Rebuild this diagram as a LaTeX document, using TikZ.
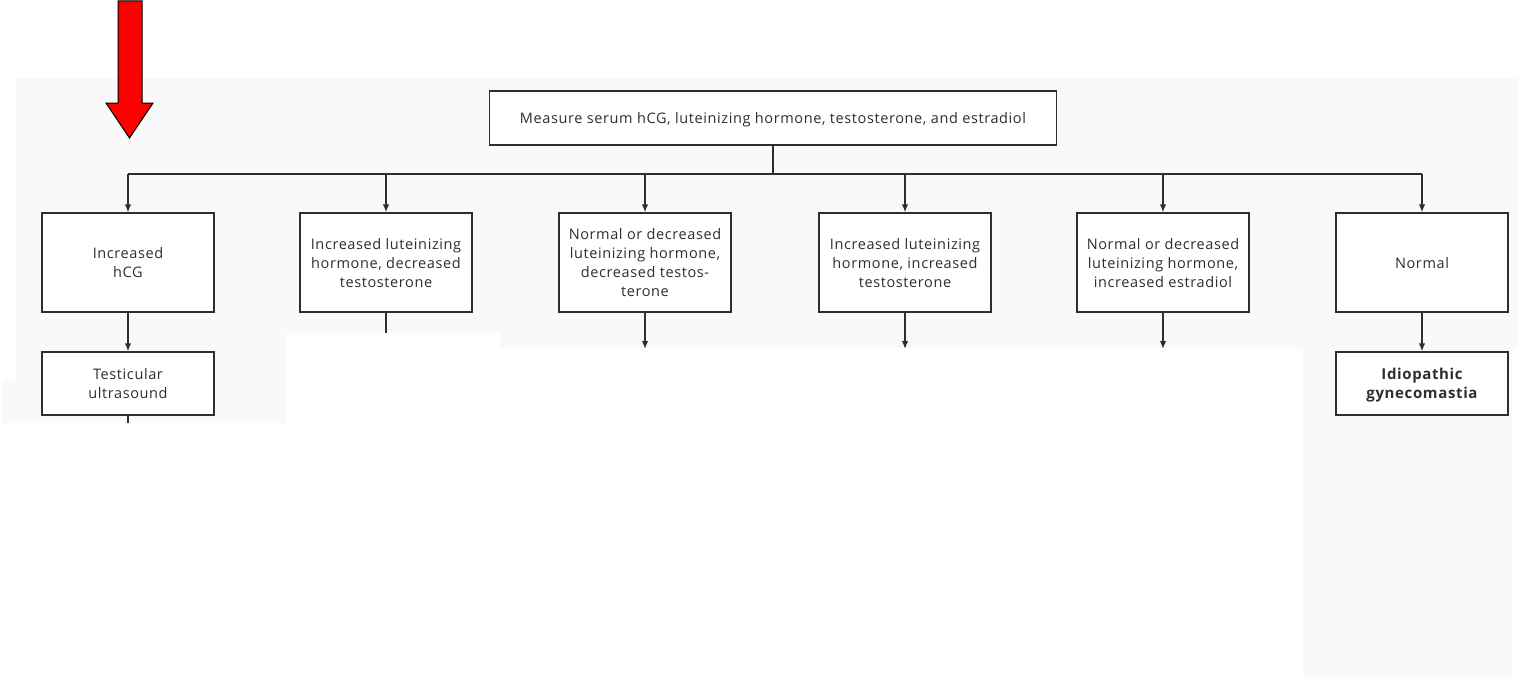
\documentclass[tikz,border=0pt]{standalone}
\usepackage{fontspec}
\setmainfont{Open Sans}[LetterSpace=4.2]
\usetikzlibrary{arrows.meta}
\definecolor{panel}{HTML}{F9F9F9}
\definecolor{ink}{HTML}{2E2E2E}
\begin{document}
\begin{tikzpicture}[x=1pt,y=-1pt,
  box/.style={draw=ink, line width=1.4pt, fill=white, minimum width=172pt,
    align=center, font=\fontsize{14.5}{19}\selectfont, text=ink, inner sep=0pt,
    text depth=0pt},
  rowbox/.style={box, minimum height=99pt},
  smallbox/.style={box, minimum height=63pt},
  link/.style={draw=ink, line width=1.4pt},
  arr/.style={link, -{Latex[length=8pt,width=6.5pt]}},
  panelfill/.style={fill=panel, draw=none},
  cutout/.style={fill=white, draw=none}]
\useasboundingbox (0,0) rectangle (1518,677);

% light panel behind the chart
\path[panelfill] (16,78) rectangle (1518,348);
\path[panelfill] (16,78) rectangle (287,423);
\path[panelfill] (2,380) rectangle (287,423);
\path[panelfill] (1303,340) rectangle (1512,677);

% top test box
\node[box, minimum width=567pt, minimum height=54pt] (top) at (773,118)
  {Measure serum hCG, luteinizing hormone, testosterone, and estradiol};

% result boxes
\node[rowbox] (b1) at (128,262.5) {Increased\\hCG};
\node[rowbox] (b2) at (386,262.5) {Increased luteinizing\\hormone, decreased\\testosterone};
\node[rowbox] (b3) at (645,262.5) {Normal or decreased\\luteinizing hormone,\\decreased testos-\\terone};
\node[rowbox] (b4) at (905,262.5) {Increased luteinizing\\hormone, increased\\testosterone};
\node[rowbox] (b5) at (1163,262.5) {Normal or decreased\\luteinizing hormone,\\increased estradiol};
\node[rowbox] (b6) at (1422,262.5) {Normal};

% follow-up boxes
\node[smallbox] (us) at (128,383.5) {Testicular\\ultrasound};
\node[smallbox, font=\fontsize{15}{19}\selectfont\bfseries] (idio) at (1422,383.5) {Idiopathic\\gynecomastia};

% distribution bar
\coordinate (hl) at (128,174);
\coordinate (hr) at (1422,174);
\draw[link] (top.south) -- (top.south |- hl);
\draw[link] (hl) -- (hr);
\foreach \b in {b1,b2,b3,b4,b5,b6}
  \draw[arr] (\b.north |- hl) -- (\b.north);

% outgoing connectors
\coordinate (e2) at (386,340);
\coordinate (e3) at (645,349);
\coordinate (e4) at (905,349);
\coordinate (e5) at (1163,349);
\coordinate (eus) at (128,430);
\draw[arr] (b1) -- (us);
\draw[arr] (b6) -- (idio);
\draw[link] (b2.south) -- (e2);
\draw[arr] (b3.south) -- (e3);
\draw[arr] (b4.south) -- (e4);
\draw[arr] (b5.south) -- (e5);
\draw[link] (us.south) -- (eus);

% blank areas below the visible part
\path[cutout] (287,333) rectangle (500,677);
\path[cutout] (500,348) rectangle (1303,677);
\path[cutout] (0,423) rectangle (287,677);

% red pointer arrow
\draw[black, line width=1pt, fill=red, line join=miter]
  (118,1) -- (142,1) -- (142,103) -- (153,103) -- (129.5,138)
  -- (106,103) -- (118,103) -- cycle;
\end{tikzpicture}
\end{document}
